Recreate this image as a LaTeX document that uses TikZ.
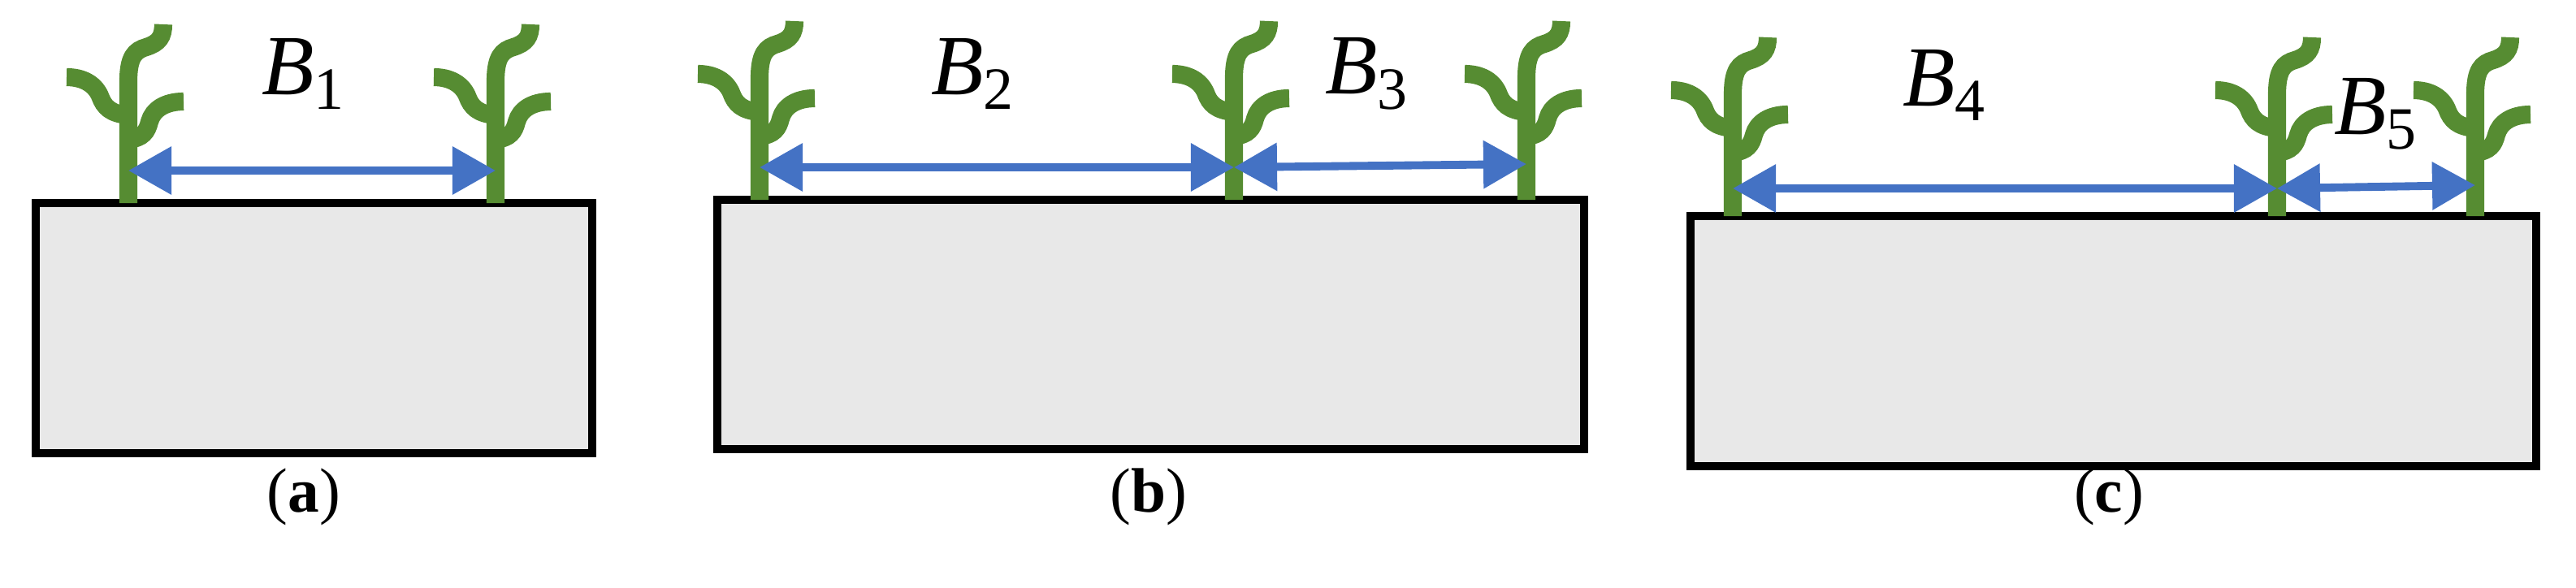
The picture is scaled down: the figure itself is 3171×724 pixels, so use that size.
\documentclass[tikz,border=0pt]{standalone}
\usepackage{fontspec}
\setmainfont{Liberation Serif}
\usetikzlibrary{arrows.meta}
\definecolor{leaf}{RGB}{86,140,50}
\definecolor{arrowblue}{RGB}{68,114,196}
\definecolor{soil}{RGB}{232,232,232}
\tikzset{
  soilbox/.style={draw=black,line width=3.1pt,fill=soil},
  stem/.style={draw=leaf,line width=6.3pt,line cap=butt},
  gap/.style={draw=arrowblue,line width=2.8pt,{Triangle[length=0.53cm,width=0.57cm]}-{Triangle[length=0.53cm,width=0.57cm]},shorten <=0pt,shorten >=0pt},
  lbl/.style={font=\fontsize{30}{34}\selectfont},
  captext/.style={font=\fontsize{22}{26}\selectfont},
  plant/.pic={
    \draw[stem] (0,0) -- (0,-150) .. controls (0,-180) and (8,-188) .. (22,-192) .. controls (38,-197) and (43,-205) .. (43,-220);
    \draw[stem] (0,-108) .. controls (-22,-110) and (-30,-118) .. (-35,-132) .. controls (-42,-148) and (-58,-155) .. (-76,-155);
    \draw[stem] (0,-78) .. controls (18,-80) and (23,-88) .. (26,-100) .. controls (30,-115) and (45,-125) .. (68,-125);
  }
}
\newcommand{\Bsub}[1]{\textit{B}\textsubscript{#1}}
\begin{document}
\begin{tikzpicture}[x=0.01cm,y=-0.01cm]
\useasboundingbox (0,0) rectangle (3171,724);
% (a)
\draw[soilbox] (44,250) rectangle (729,558);
\pic at (158,250) {plant};
\pic at (610,250) {plant};
\coordinate (a1) at (158,210);
\coordinate (a2) at (610,210);
\draw[gap] (a1) -- (a2);
\node[lbl] (la) at (374,91) {\Bsub{1}};
\node[captext] (ca) at (374,612) {(\textbf{a})};
% (b)
\draw[soilbox] (883,246) rectangle (1950,553);
\pic at (935,246) {plant};
\pic at (1519,246) {plant};
\pic at (1879,246) {plant};
\coordinate (b1) at (935,206);
\coordinate (b2) at (1519,206);
\coordinate (b3) at (1879,202);
\draw[gap] (b1) -- (b2);
\draw[gap] (b2) -- (b3);
\node[lbl] (lb2) at (1198,91) {\Bsub{2}};
\node[lbl] (lb3) at (1683,91) {\Bsub{3}};
\node[captext] (cb) at (1414,612) {(\textbf{b})};
% (c)
\draw[soilbox] (2081,266) rectangle (3122,574);
\pic at (2133,266) {plant};
\pic at (2803,266) {plant};
\pic at (3047,266) {plant};
\coordinate (c1) at (2133,232);
\coordinate (c2) at (2803,232);
\coordinate (c3) at (3047,228);
\draw[gap] (c1) -- (c2);
\draw[gap] (c2) -- (c3);
\node[lbl] (lc4) at (2394,105) {\Bsub{4}};
\node[lbl] (lc5) at (2925,140) {\Bsub{5}};
\node[captext] (cc) at (2596,612) {(\textbf{c})};
\end{tikzpicture}
\end{document}
